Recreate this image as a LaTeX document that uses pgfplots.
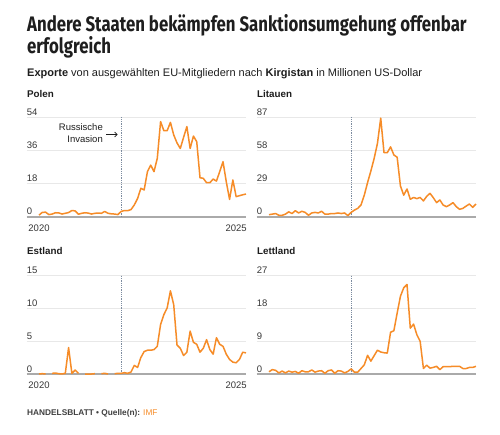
\documentclass[border=0pt]{standalone}
\usepackage{fontspec}
\usepackage{pgfplots}
\pgfplotsset{compat=1.18}
\usetikzlibrary{arrows.meta}
\setmainfont{Liberation Sans}
\newfontfamily\titlefont[FakeStretch=0.80]{Fira Sans}
\definecolor{lineor}{RGB}{246,140,40}
\definecolor{txt}{RGB}{30,30,30}
\definecolor{ticktxt}{RGB}{55,55,55}
\definecolor{gridc}{RGB}{232,232,232}
\definecolor{basec}{RGB}{170,170,170}
\definecolor{dotc}{RGB}{125,140,160}

\pgfplotstableread{
i polen litauen estland lettland
0 1.0 2.0 0 0.6
1 2.5 2.5 0.05 1.2
2 2.6 3.0 0 1.0
3 1.3 1.5 nan 0.3
4 1.6 1.5 0.1 0.8
5 2.3 2.5 0.15 0.3
6 2.2 4.5 0.05 0.8
7 1.6 3.0 0 0.5
8 2.0 5.5 0.1 0.7
9 2.4 3.5 4.0 0.2
10 3.5 5.0 0.1 0.9
11 3.3 4.0 0.6 0.6
12 1.5 1.5 0.1 0.6
13 2.0 3.5 nan 1.1
14 2.3 4.0 0 0.5
15 2.1 3.5 0 0.8
16 1.6 5.0 0 0.9
17 2.0 2.5 0.05 0.2
18 2.1 2.5 nan 0.9
19 2.0 3.0 0.05 1.1
20 3.0 3.0 0.1 0.2
21 2.0 3.5 0 0.9
22 1.7 3.0 nan 0.8
23 1.6 3.5 0.05 0.3
24 1.3 1.2 0.1 0.7
25 3.0 4.0 0.1 1.4
26 3.5 6.0 0.2 0.5
27 3.4 7.5 0.1 0.5
28 4.0 10.5 0.3 1.5
29 6.5 19 1.3 2.5
30 10 30 1.0 5.1
31 15.5 40 2.5 3.5
32 14.6 51 3.4 5.0
33 24.5 64 3.6 6.5
34 28 86 3.6 6.0
35 24.5 56 3.7 5.8
36 31.7 56 4.2 5.7
37 51.5 61 7.5 11.4
38 46.6 54 9.0 11.8
39 46.6 52 10.0 16.6
40 51.1 27 12.6 21.2
41 44.3 19 10.5 23.5
42 40 24.4 4.4 24.4
43 37 15.4 3.9 12.5
44 43 17 2.8 13.6
45 48.8 16 3.3 10.7
46 37 17 6.5 8.9
47 43.7 14 4.8 1.5
48 40.7 18 4.5 2.4
49 21.2 20.6 3.3 1.6
50 20.9 16.8 3.9 1.8
51 18.5 12.5 5.2 2.1
52 18.5 14.8 3.7 1.2
53 20.5 10.4 3.0 2.0
54 19.4 9.0 5.5 2.0
55 24.5 10.5 4.5 2.0
56 29.9 12.5 4.2 2.1
57 19 9.0 3.0 2.1
58 9.5 6.7 2.2 2.1
59 20 7.5 1.8 1.5
60 11 9.5 1.7 1.5
61 11.5 11.3 2.2 1.8
62 12 8.4 3.3 1.8
63 12.4 11.3 3.2 2.1
}\datatable

\pgfplotsset{
  panel/.style={
    scale only axis, width=219.3pt, height=100pt,
    anchor=south west,
    xmin=-3.75, xmax=63, ymin=0,
    axis line style={draw=none},
    major tick style={draw=none},
    ymajorgrids, grid style={draw=gridc, line width=0.8pt},
    yticklabel style={anchor=base west, inner sep=0pt, yshift=2pt, font=\fontsize{9.5}{11}\selectfont, text=ticktxt},
    xticklabel style={font=\fontsize{9.5}{11}\selectfont, text=ticktxt, anchor=base, yshift=-14.7pt, inner sep=0pt},
    /pgf/number format/assume math mode=true,
    unbounded coords=jump,
    clip=false,
  },
  orline/.style={draw=lineor, line width=1.5pt, line join=round, no markers},
}

\begin{document}
\begin{tikzpicture}[x=1pt,y=1pt]
\fill[white] (0,0) rectangle (500,434);
\useasboundingbox (0,0) rectangle (500,434);

\node[anchor=base west, inner sep=0pt, text=txt] at (27,402.5) {\titlefont\bfseries\fontsize{21}{24}\selectfont Andere Staaten bekämpfen Sanktionsumgehung offenbar};
\node[anchor=base west, inner sep=0pt, text=txt] at (27,380.5) {\titlefont\bfseries\fontsize{21}{24}\selectfont erfolgreich};
\node[anchor=base west, inner sep=0pt, text=txt] at (27,357.3) {\fontsize{11}{13}\selectfont \textbf{Exporte} von ausgewählten EU-Mitgliedern nach \textbf{Kirgistan} in Millionen US-Dollar};

\node[anchor=base west, inner sep=0pt, text=txt] at (27,336.5) {\bfseries\fontsize{9.8}{12}\selectfont Polen};
\node[anchor=base west, inner sep=0pt, text=txt] at (257,336.5) {\bfseries\fontsize{9.8}{12}\selectfont Litauen};
\node[anchor=base west, inner sep=0pt, text=txt] at (27,179) {\bfseries\fontsize{9.8}{12}\selectfont Estland};
\node[anchor=base west, inner sep=0pt, text=txt] at (257,179) {\bfseries\fontsize{9.8}{12}\selectfont Lettland};

% Polen
\begin{axis}[panel, at={(26.7pt,217pt)}, ymax=54, ytick={0,18,36,54}, yticklabels={0,18,36,54}, xtick={0,60}, xticklabels={2020,2025}]
\draw[basec, line width=2pt] (rel axis cs:0,0) -- (rel axis cs:1,0);
\addplot[dotc, densely dotted, line width=0.8pt] coordinates {(25,0) (25,54)};
\addplot[orline] table[x=i, y=polen] {\datatable};
\end{axis}
\node[anchor=base east, inner sep=0pt, text=txt] at (103,303) {\fontsize{9.5}{11}\selectfont Russische};
\node[anchor=base east, inner sep=0pt, text=txt] at (103,291.3) {\fontsize{9.5}{11}\selectfont Invasion};
\draw[txt, line width=0.6pt, -{Straight Barb[length=2.5pt]}] (106,299.5) -- (117.5,299.5);

% Litauen
\begin{axis}[panel, at={(256.7pt,217pt)}, ymax=87, ytick={0,29,58,87}, yticklabels={0,29,58,87}, xtick=\empty]
\draw[basec, line width=2pt] (rel axis cs:0,0) -- (rel axis cs:1,0);
\addplot[dotc, densely dotted, line width=0.8pt] coordinates {(25,0) (25,87)};
\addplot[orline] table[x=i, y=litauen] {\datatable};
\end{axis}

% Estland
\begin{axis}[panel, height=99pt, at={(26.7pt,60pt)}, ymax=15, ytick={0,5,10,15}, yticklabels={0,5,10,15}, xtick={0,60}, xticklabels={2020,2025}]
\draw[basec, line width=2pt] (rel axis cs:0,0) -- (rel axis cs:1,0);
\addplot[dotc, densely dotted, line width=0.8pt] coordinates {(25,0) (25,15)};
\addplot[orline] table[x=i, y=estland] {\datatable};
\end{axis}

% Lettland
\begin{axis}[panel, height=99pt, at={(256.7pt,60pt)}, ymax=27, ytick={0,9,18,27}, yticklabels={0,9,18,27}, xtick=\empty]
\draw[basec, line width=2pt] (rel axis cs:0,0) -- (rel axis cs:1,0);
\addplot[dotc, densely dotted, line width=0.8pt] coordinates {(25,0) (25,27)};
\addplot[orline] table[x=i, y=lettland] {\datatable};
\end{axis}

\node[anchor=base west, inner sep=0pt, text=txt!85] at (27,18.5) {\fontsize{8.3}{10}\selectfont\bfseries HANDELSBLATT \textbullet\ Quelle(n): \mdseries\textcolor{lineor}{IMF}};
\end{tikzpicture}
\end{document}
